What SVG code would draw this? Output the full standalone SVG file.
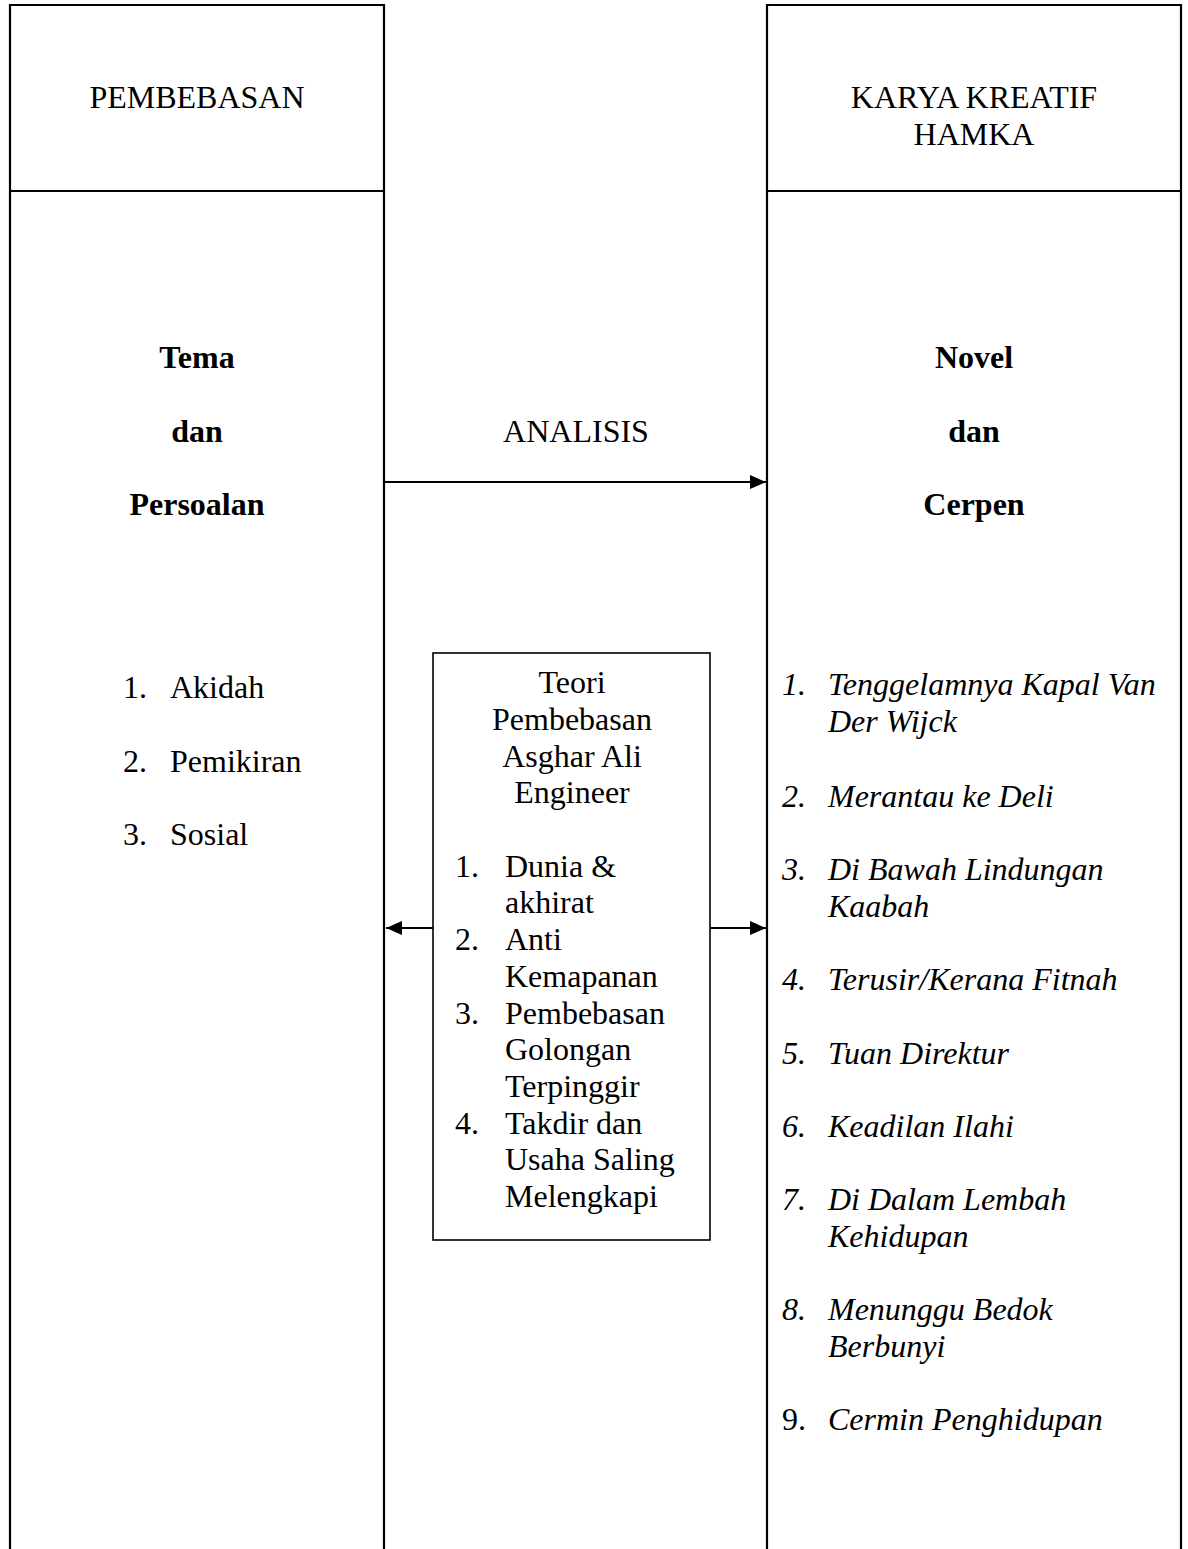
<svg xmlns="http://www.w3.org/2000/svg" width="1188" height="1549" viewBox="0 0 1188 1549">
<style>
text{font-family:"Liberation Serif","Times New Roman",serif;font-size:32px;fill:#000}
.c{text-anchor:middle}
.b{font-weight:bold}
.i{font-style:italic}
.col{fill:none;stroke:#000;stroke-width:2.2}
.box{fill:#fff;stroke:#000;stroke-width:1.6}
.ar{fill:none;stroke:#000;stroke-width:2.2}
</style>
<defs>
<marker id="ah" markerUnits="userSpaceOnUse" markerWidth="18" markerHeight="18" refX="16" refY="8" orient="auto">
<path d="M0,1 L16,8 L0,15 z" fill="#000"/>
</marker>
</defs>
<rect width="1188" height="1549" fill="#fff"/>
<g id="left-column">
<path class="col" d="M10,1549 V5 H384 V1549 M10,191 H384"/>
<text class="c" x="197" y="108">PEMBEBASAN</text>
<text class="c b" x="197" y="368">Tema</text>
<text class="c b" x="197" y="442">dan</text>
<text class="c b" x="197" y="515">Persoalan</text>
<text x="123" y="698">1.</text><text x="170" y="698">Akidah</text>
<text x="123" y="772">2.</text><text x="170" y="772">Pemikiran</text>
<text x="123" y="845">3.</text><text x="170" y="845">Sosial</text>
</g>
<g id="right-column">
<path class="col" d="M767,1549 V5 H1181 V1549 M767,191 H1181"/>
<text class="c" x="974" y="108">KARYA KREATIF</text>
<text class="c" x="974" y="145">HAMKA</text>
<text class="c b" x="974" y="368">Novel</text>
<text class="c b" x="974" y="442">dan</text>
<text class="c b" x="974" y="515">Cerpen</text>
<g class="i">
<text class="i" x="782" y="695">1.</text><text class="i" x="828" y="695">Tenggelamnya Kapal Van</text>
<text class="i" x="828" y="732">Der Wijck</text>
<text class="i" x="782" y="807">2.</text><text class="i" x="828" y="807">Merantau ke Deli</text>
<text class="i" x="782" y="880">3.</text><text class="i" x="828" y="880">Di Bawah Lindungan</text>
<text class="i" x="828" y="917">Kaabah</text>
<text class="i" x="782" y="990">4.</text><text class="i" x="828" y="990">Terusir/Kerana Fitnah</text>
<text class="i" x="782" y="1064">5.</text><text class="i" x="828" y="1064">Tuan Direktur</text>
<text class="i" x="782" y="1137">6.</text><text class="i" x="828" y="1137">Keadilan Ilahi</text>
<text class="i" x="782" y="1210">7.</text><text class="i" x="828" y="1210">Di Dalam Lembah</text>
<text class="i" x="828" y="1247">Kehidupan</text>
<text class="i" x="782" y="1320">8.</text><text class="i" x="828" y="1320">Menunggu Bedok</text>
<text class="i" x="828" y="1357">Berbunyi</text>
</g>
<text x="782" y="1430">9.</text><text class="i" x="828" y="1430">Cermin Penghidupan</text>
</g>
<g id="analisis-label">
<text class="c" x="576" y="442">ANALISIS</text>
</g>
<g id="theory-box">
<rect class="box" x="433" y="653" width="277" height="587"/>
<text class="c" x="572" y="693">Teori</text>
<text class="c" x="572" y="730">Pembebasan</text>
<text class="c" x="572" y="767">Asghar Ali</text>
<text class="c" x="572" y="803">Engineer</text>
<text x="455" y="877">1.</text><text x="505" y="877">Dunia &amp;</text>
<text x="505" y="913">akhirat</text>
<text x="455" y="950">2.</text><text x="505" y="950">Anti</text>
<text x="505" y="987">Kemapanan</text>
<text x="455" y="1024">3.</text><text x="505" y="1024">Pembebasan</text>
<text x="505" y="1060">Golongan</text>
<text x="505" y="1097">Terpinggir</text>
<text x="455" y="1134">4.</text><text x="505" y="1134">Takdir dan</text>
<text x="505" y="1170">Usaha Saling</text>
<text x="505" y="1207">Melengkapi</text>
</g>
<g id="connectors">
<line class="ar" x1="385" y1="482" x2="766" y2="482" marker-end="url(#ah)"/>
<line class="ar" x1="433" y1="928" x2="386" y2="928" marker-end="url(#ah)"/>
<line class="ar" x1="710" y1="928" x2="766" y2="928" marker-end="url(#ah)"/>
</g>
</svg>
